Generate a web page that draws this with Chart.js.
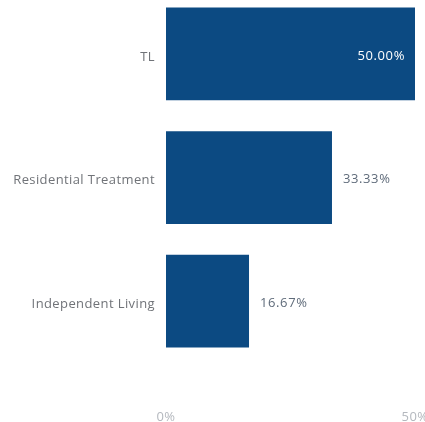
<!DOCTYPE html>
<html>
<head>
<meta charset="utf-8">
<script src="https://cdn.jsdelivr.net/npm/chart.js@4"></script>
<style>
  html, body { margin: 0; padding: 0; background: #fff; overflow: hidden; width: 425px; height: 422px; }
  #myChart { display: block; margin-top: -8px; }
</style>
</head>
<body>
<canvas id="myChart" width="440" height="431"></canvas>
<script>
const categories = ["TL", "Residential Treatment", "Independent Living"];
const shares = [50.0, 33.33, 16.67];
const x_ticks = [0, 50];
const bar_color = "#0c4a82";
const font_family = "'Open Sans', 'DejaVu Sans', sans-serif";

// wider letter spacing, like the source font
const spacing = {
  id: "spacing",
  beforeInit(chart) {
    chart.ctx.letterSpacing = "0.4px";
  },
  beforeDraw(chart) {
    chart.ctx.letterSpacing = "0.4px";
  },
};

// value labels drawn next to / inside each bar
const value_labels = {
  id: "value_labels",
  afterDatasetsDraw(chart) {
    const ctx = chart.ctx;
    const meta = chart.getDatasetMeta(0);
    const top = Math.max(...shares);
    ctx.save();
    ctx.font = "13px " + font_family;
    ctx.letterSpacing = "0.6px";
    ctx.textBaseline = "middle";
    meta.data.forEach((bar, i) => {
      const text = shares[i].toFixed(2) + "%";
      if (shares[i] === top) {
        ctx.fillStyle = "#ffffff";
        ctx.textAlign = "right";
        ctx.fillText(text, bar.x - 10, bar.y + 2);
      } else {
        ctx.fillStyle = "#5f6b7a";
        ctx.textAlign = "left";
        ctx.fillText(text, bar.x + 11, bar.y + 2);
      }
    });
    ctx.restore();
  },
};

const ctx = document.getElementById("myChart").getContext("2d");
const myChart = new Chart(ctx, {
  type: "bar",
  data: {
    labels: categories,
    datasets: [
      {
        data: shares,
        backgroundColor: bar_color,
        barPercentage: 0.75,
        categoryPercentage: 1.0,
      },
    ],
  },
  options: {
    indexAxis: "y",
    responsive: false,
    maintainAspectRatio: false,
    animation: false,
    layout: { padding: { left: 0, right: 25, top: 0, bottom: 0 } },
    plugins: {
      legend: { display: false },
      tooltip: { enabled: false },
    },
    scales: {
      x: {
        min: 0,
        max: 50,
        afterBuildTicks: (scale) => {
          scale.ticks = x_ticks.map((v) => ({ value: v }));
        },
        afterFit: (scale) => {
          scale.height = 60;
          scale.paddingLeft = 0;
          scale.paddingRight = 0;
        },
        grid: { display: false, drawTicks: false },
        border: { display: false },
        ticks: {
          padding: 46,
          color: "#b4b8be",
          font: { family: font_family, size: 13 },
          maxRotation: 0,
          callback: (v) => v + "%",
        },
      },
      y: {
        afterFit: (scale) => {
          scale.width = 166;
          scale.paddingTop = 0;
          scale.paddingBottom = 0;
        },
        grid: { display: false, drawTicks: false },
        border: { display: false },
        ticks: {
          padding: 11,
          labelOffset: 3,
          color: "#707378",
          font: { family: font_family, size: 13 },
        },
      },
    },
  },
  plugins: [spacing, value_labels],
});
</script>
</body>
</html>
